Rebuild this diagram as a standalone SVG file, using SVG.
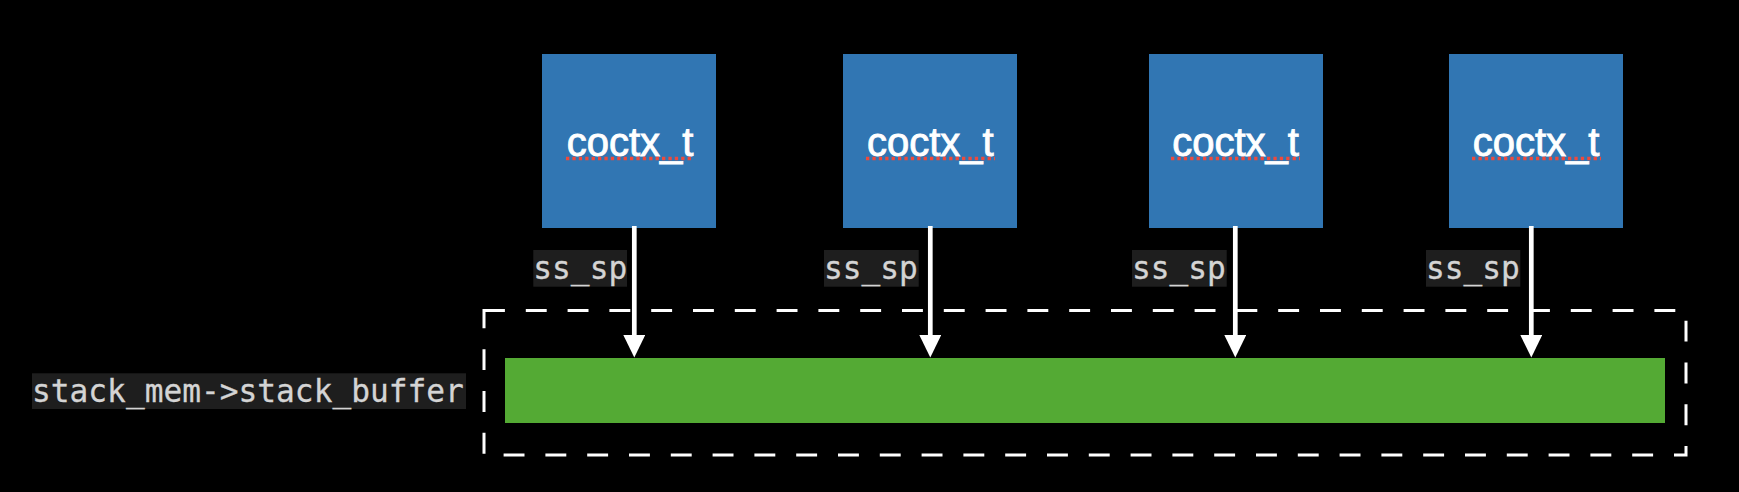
<svg xmlns="http://www.w3.org/2000/svg" width="1739" height="492" viewBox="0 0 1739 492">
  <defs>
    <marker id="arrow" markerUnits="userSpaceOnUse" markerWidth="23" markerHeight="22" viewBox="0 0 22.5 22" refX="0" refY="11" orient="auto">
      <path d="M0,0 L22.5,11 L0,22 Z" fill="#ffffff"/>
    </marker>
  </defs>
  <style>
    .box { fill: #3176b3; }
    .boxtext { font-family: "Liberation Sans", Arial, Helvetica, sans-serif; font-size: 40px; fill: #ffffff; stroke: #ffffff; stroke-width: 0.9px; text-anchor: middle; }
    .squiggle { stroke: #ee4a3c; stroke-width: 3.4; stroke-dasharray: 3.3 3.1; fill: none; }
    .code { font-family: "DejaVu Sans Mono", "Liberation Mono", monospace; font-size: 31.2px; fill: #d4d4d4; stroke: #d4d4d4; stroke-width: 0.3px; }
    .codebg { fill: #1e1e1e; }
    .edge { stroke: #ffffff; stroke-width: 4.7; fill: none; marker-end: url(#arrow); }
  </style>
  <rect x="0" y="0" width="1739" height="492" fill="#000000"/>

  <g id="stack_buffer_group">
    <rect x="484" y="310.5" width="1202" height="144.5" fill="none" stroke="#ffffff" stroke-width="3" stroke-dasharray="20.9 20.9"/>
    <rect id="stack_buffer" x="505" y="358" width="1160" height="65" fill="#54aa34"/>
  </g>

  <g id="label_stack_buffer">
    <rect class="codebg" x="32" y="373.3" width="434" height="35.7"/>
    <text class="code" x="32" y="402.3">stack_mem-&gt;stack_buffer</text>
  </g>

  <g id="coctx1">
    <rect class="box" x="542" y="54" width="174" height="174"/>
    <text class="boxtext" x="630" y="156">coctx_t</text>
    <line class="squiggle" x1="566" y1="158.5" x2="694" y2="158.5"/>
  </g>
  <g id="coctx2">
    <rect class="box" x="843" y="54" width="174" height="174"/>
    <text class="boxtext" x="930.3" y="156">coctx_t</text>
    <line class="squiggle" x1="866" y1="158.5" x2="995" y2="158.5"/>
  </g>
  <g id="coctx3">
    <rect class="box" x="1149" y="54" width="174" height="174"/>
    <text class="boxtext" x="1235.5" y="156">coctx_t</text>
    <line class="squiggle" x1="1171" y1="158.5" x2="1300" y2="158.5"/>
  </g>
  <g id="coctx4">
    <rect class="box" x="1449" y="54" width="174" height="174"/>
    <text class="boxtext" x="1536" y="156">coctx_t</text>
    <line class="squiggle" x1="1472" y1="158.5" x2="1601" y2="158.5"/>
  </g>

  <g id="connectors">
    <line class="edge" x1="634.3" y1="226" x2="634.3" y2="335"/>
    <line class="edge" x1="930.3" y1="226" x2="930.3" y2="335"/>
    <line class="edge" x1="1235.3" y1="226" x2="1235.3" y2="335"/>
    <line class="edge" x1="1531.3" y1="226" x2="1531.3" y2="335"/>
    <g id="edge_labels">
      <rect class="codebg" x="533.3" y="250" width="93.7" height="36.7"/>
      <text class="code" x="533.3" y="278.5">ss_sp</text>
      <rect class="codebg" x="824" y="250" width="94.7" height="36.7"/>
      <text class="code" x="824" y="278.5">ss_sp</text>
      <rect class="codebg" x="1132" y="250" width="94.7" height="36.7"/>
      <text class="code" x="1132" y="278.5">ss_sp</text>
      <rect class="codebg" x="1426" y="250" width="94.3" height="36.7"/>
      <text class="code" x="1426" y="278.5">ss_sp</text>
    </g>
  </g>
</svg>
